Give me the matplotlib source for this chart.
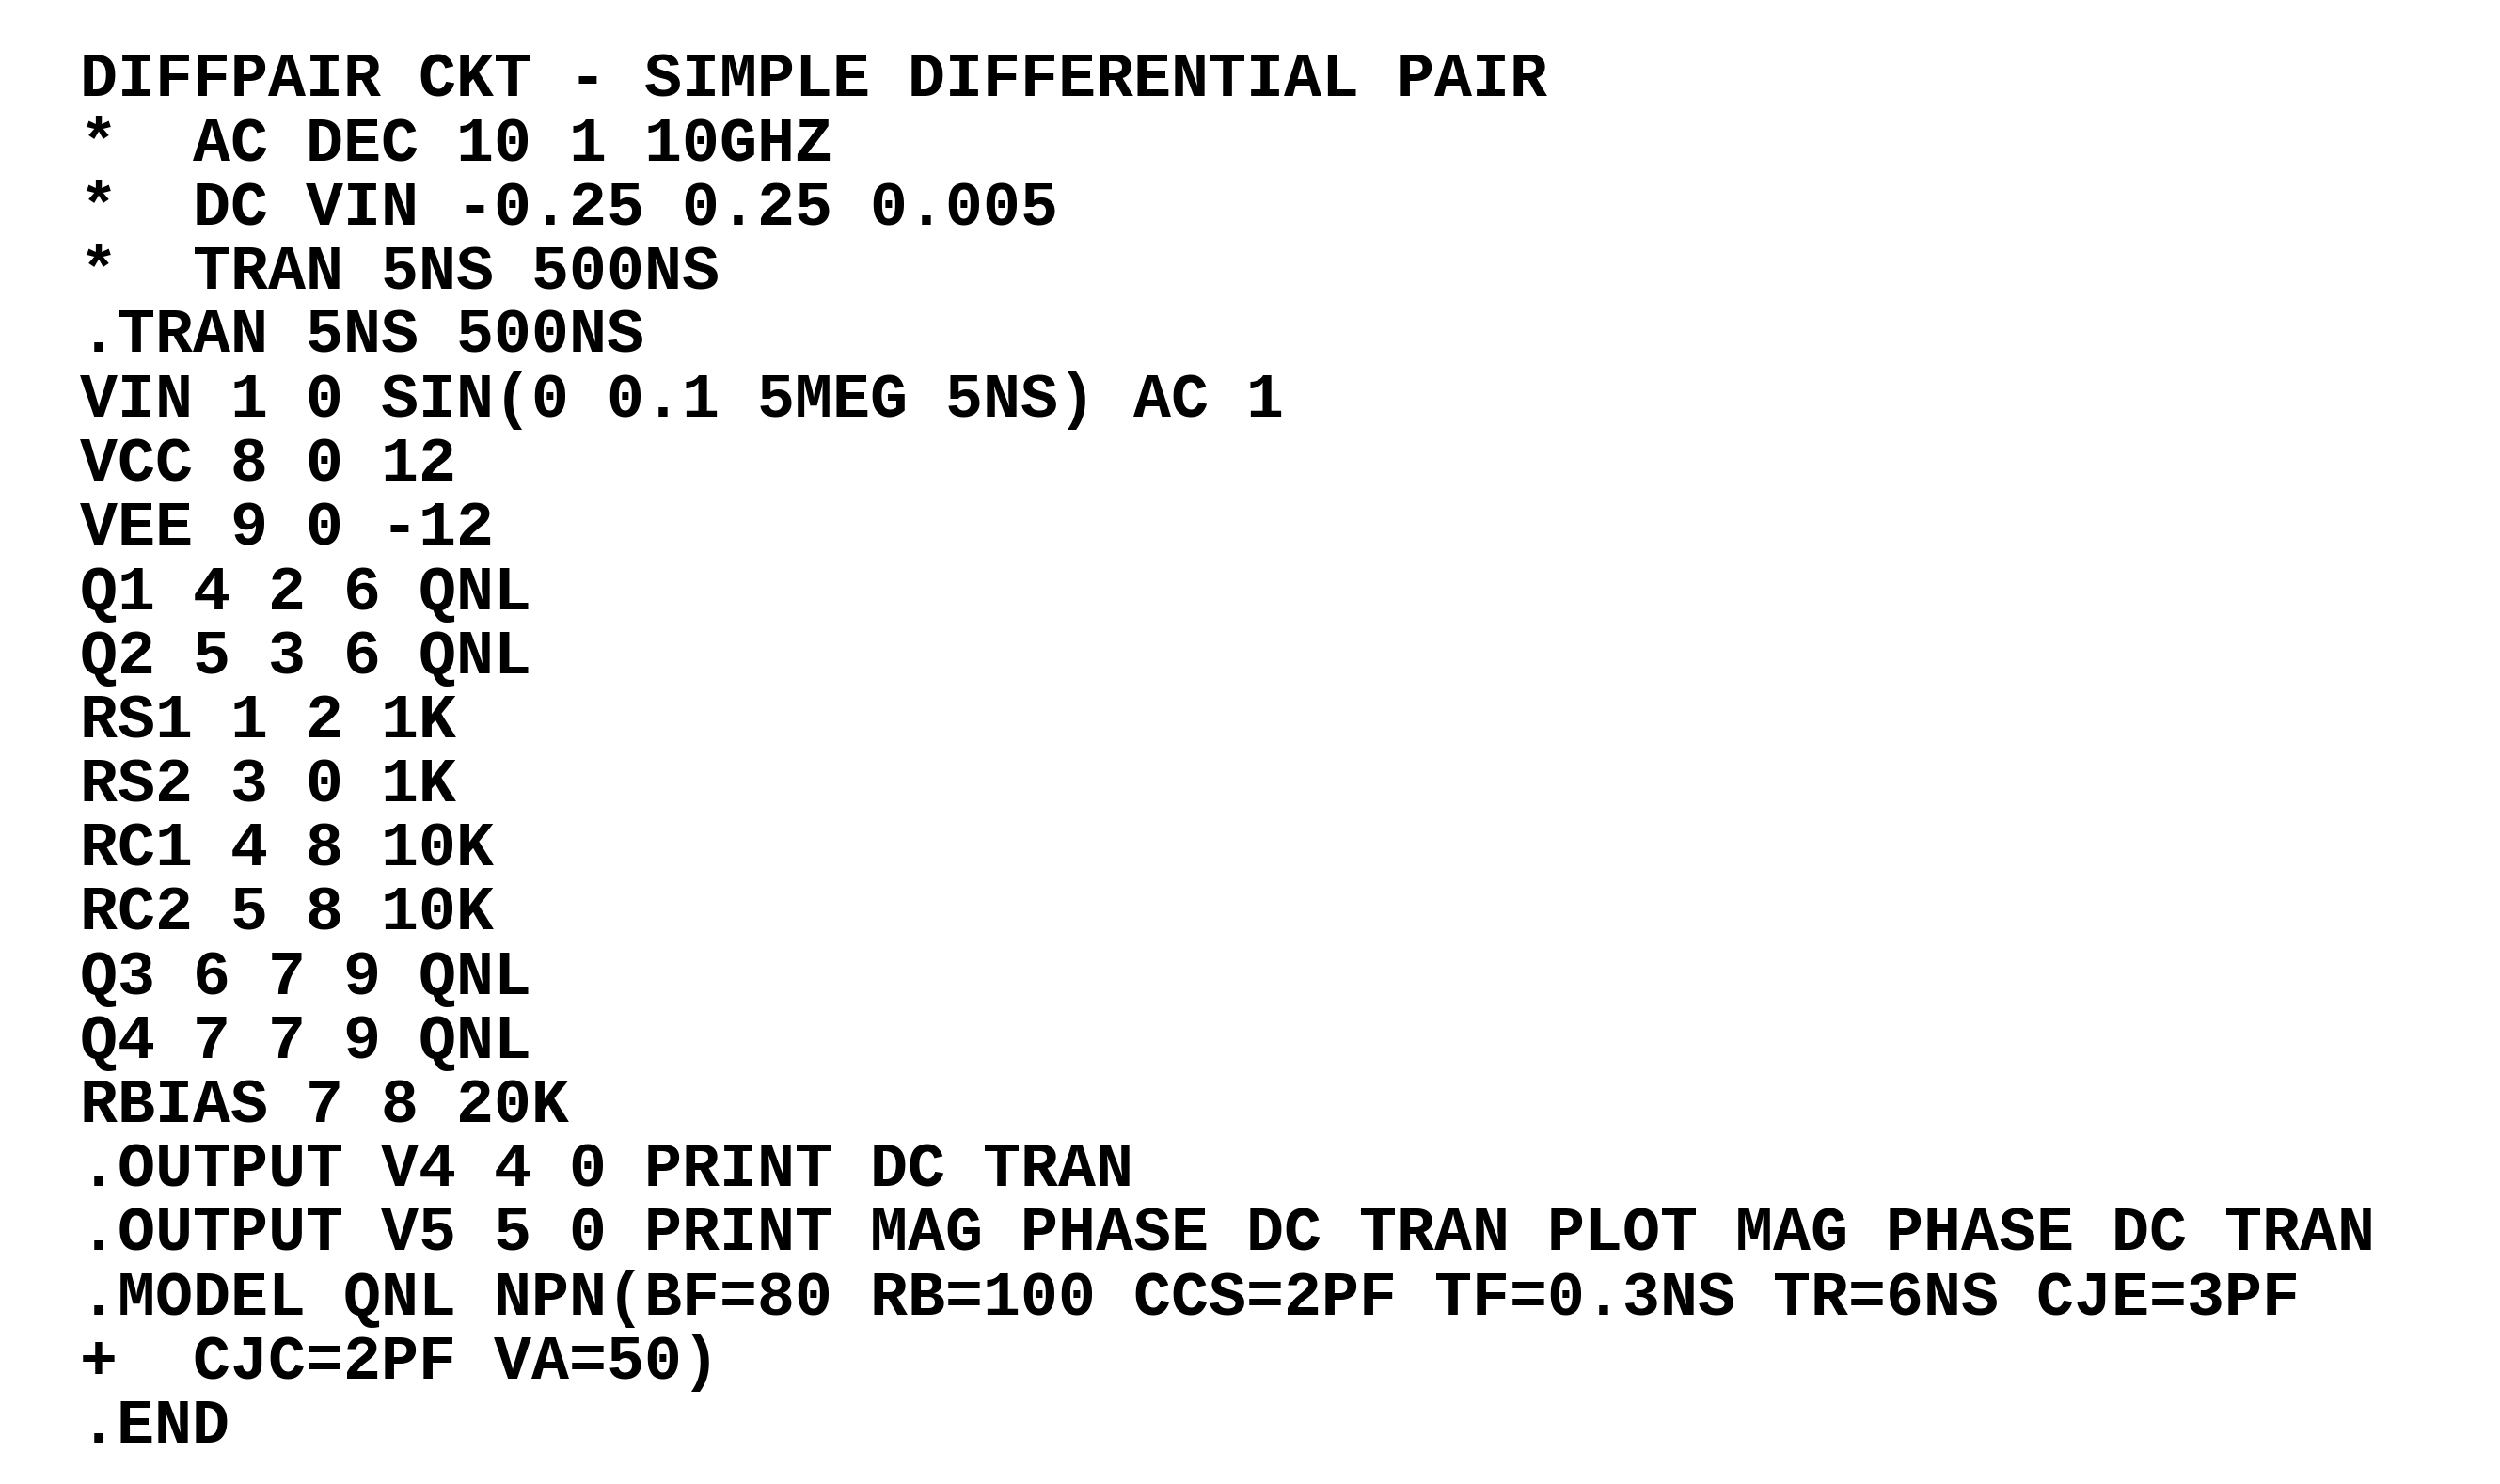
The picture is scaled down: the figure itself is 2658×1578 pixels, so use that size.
import matplotlib
matplotlib.use("Agg")
import matplotlib.pyplot as plt

# SPICE deck lines, top to bottom
deck_lines = [
    "DIFFPAIR CKT - SIMPLE DIFFERENTIAL PAIR",
    "*  AC DEC 10 1 10GHZ",
    "*  DC VIN -0.25 0.25 0.005",
    "*  TRAN 5NS 500NS",
    ".TRAN 5NS 500NS",
    "VIN 1 0 SIN(0 0.1 5MEG 5NS) AC 1",
    "VCC 8 0 12",
    "VEE 9 0 -12",
    "Q1 4 2 6 QNL",
    "Q2 5 3 6 QNL",
    "RS1 1 2 1K",
    "RS2 3 0 1K",
    "RC1 4 8 10K",
    "RC2 5 8 10K",
    "Q3 6 7 9 QNL",
    "Q4 7 7 9 QNL",
    "RBIAS 7 8 20K",
    ".OUTPUT V4 4 0 PRINT DC TRAN",
    ".OUTPUT V5 5 0 PRINT MAG PHASE DC TRAN PLOT MAG PHASE DC TRAN",
    ".MODEL QNL NPN(BF=80 RB=100 CCS=2PF TF=0.3NS TR=6NS CJE=3PF",
    "+  CJC=2PF VA=50)",
    ".END",
]

fig = plt.figure(figsize=(26.58, 15.78), dpi=100)
fig.patch.set_facecolor("white")

top = 85 / 1578
step = 68.2 / 1578
for i, line in enumerate(deck_lines):
    fig.text(85 / 2658, 1 - top - i * step, line,
             family=["Liberation Mono", "DejaVu Sans Mono"],
             fontsize=48, fontweight="bold", color="black",
             ha="left", va="center")

fig.savefig("out.png", dpi=100, facecolor="white")
